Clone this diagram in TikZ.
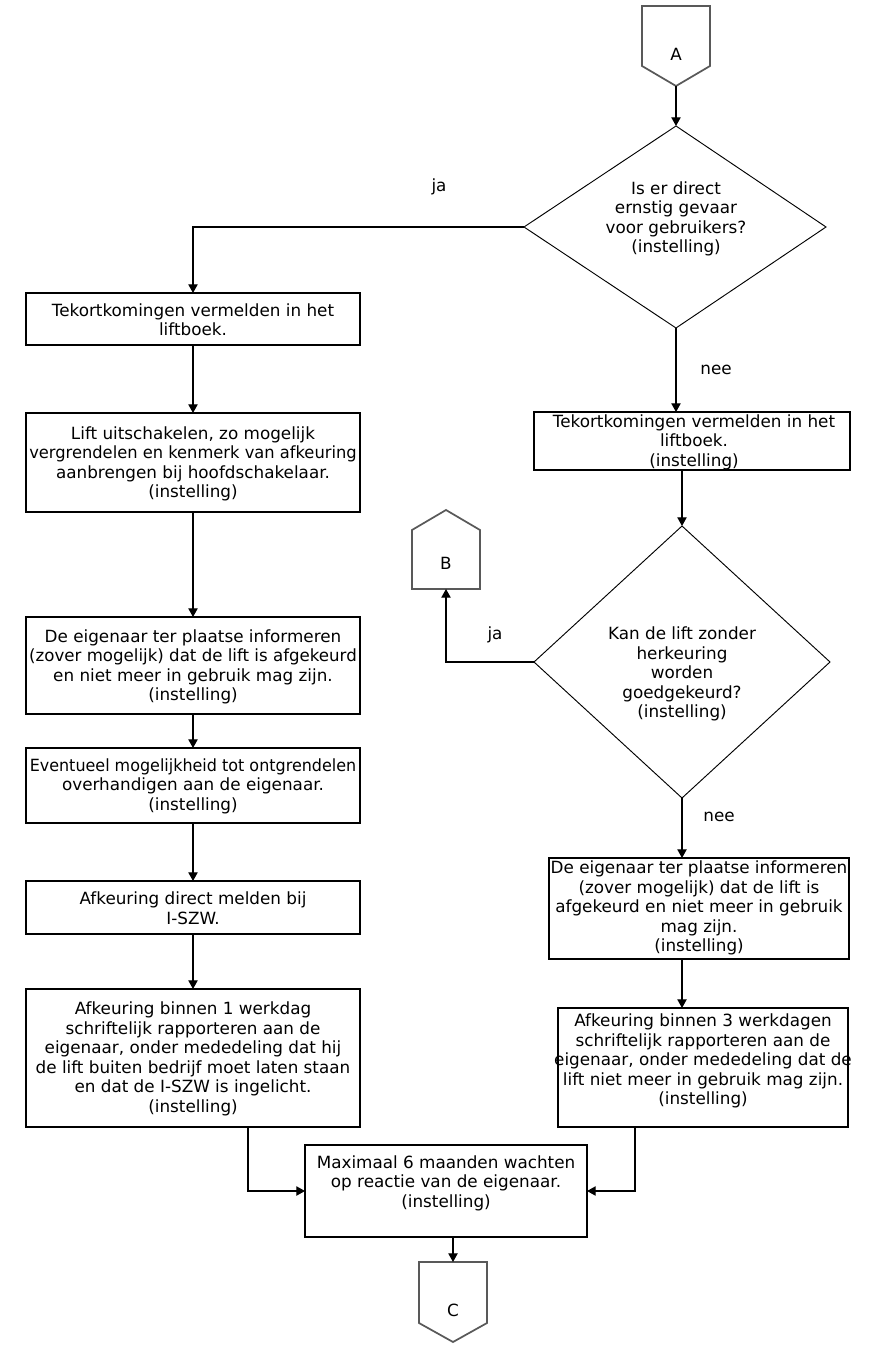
\documentclass[tikz,border=0pt]{standalone}
\usepackage{fontspec}
\usepackage{graphicx}
\setmainfont{DejaVu Sans}
\usetikzlibrary{arrows.meta}
\newcommand\mybox[5]{\node[box, minimum width={(#4-#2)*0.75pt}, minimum height={(#5-#3)*0.75pt}] (#1) at ({(#2+#4)/2},{(#3+#5)/2}) {};}
\begin{document}
\begin{tikzpicture}[x=0.75pt,y=-0.75pt,
  box/.style={draw=black, line width=1.1pt, inner sep=0pt, outer sep=0pt},
  txt/.style={align=center, inner sep=0pt, font=\fontsize{12.6}{14.6}\selectfont},
  lbl/.style={inner sep=0pt, font=\fontsize{12.6}{14.6}\selectfont},
  conn/.style={line width=0.9pt, draw=black, -{Triangle[length=6.5pt,width=7pt]}},
  dia/.style={draw=black, line width=0.7pt},
  pent/.style={draw=black!65, line width=1.3pt, line join=miter}]
\useasboundingbox (0,0) rectangle (886,1351);

% connectors A, B, C
\draw[pent] (642,6) -- (710,6) -- (710,66) -- (676,86) -- (642,66) -- cycle;
\node[lbl] (A) at (676,54) {A};
\coordinate (Apt) at (676,86);

\draw[pent] (412,589) -- (480,589) -- (480,530) -- (446,510) -- (412,530) -- cycle;
\node[lbl] (B) at (446,563) {B};
\coordinate (Bb) at (446,589);

\draw[pent] (419,1262) -- (487,1262) -- (487,1323) -- (453,1342) -- (419,1323) -- cycle;
\node[lbl] (C) at (453,1310) {C};
\coordinate (Ct) at (453,1262);

% diamond 1
\coordinate (D1t) at (676,126);
\coordinate (D1b) at (676,328);
\coordinate (D1l) at (524,227);
\coordinate (D1r) at (826,227);
\draw[dia] (D1t) -- (D1r) -- (D1b) -- (D1l) -- cycle;
\node[txt] (D1) at (676,219) {Is er direct\\ernstig gevaar\\voor gebruikers?\\(instelling)};

% diamond 2
\coordinate (D2t) at (682,526);
\coordinate (D2b) at (682,798);
\coordinate (D2l) at (534,662);
\coordinate (D2r) at (830,662);
\draw[dia] (D2t) -- (D2r) -- (D2b) -- (D2l) -- cycle;
\node[txt] (D2) at (682,674) {Kan de lift zonder\\herkeuring\\worden\\goedgekeurd?\\(instelling)};

% left column
\mybox{L1}{26}{293}{360}{345}
\node[txt] (L1t) at (193,320) {Tekortkomingen vermelden in het\\liftboek.};
\mybox{L2}{26}{413}{360}{512}
\node[txt] (L2t) at (193,464) {Lift uitschakelen, zo mogelijk\\\scalebox{0.97}[1]{vergrendelen en kenmerk van afkeuring}\\aanbrengen bij hoofdschakelaar.\\(instelling)};
\mybox{L3}{26}{617}{360}{714}
\node[txt] (L3t) at (193,667) {De eigenaar ter plaatse informeren\\\scalebox{0.99}[1]{(zover mogelijk) dat de lift is afgekeurd}\\en niet meer in gebruik mag zijn.\\(instelling)};
\mybox{L4}{26}{748}{360}{823}
\node[txt] (L4t) at (193,786) {\scalebox{0.95}[1]{Eventueel mogelijkheid tot ontgrendelen}\\overhandigen aan de eigenaar.\\(instelling)};
\mybox{L5}{26}{881}{360}{934}
\node[txt] (L5t) at (193,908) {Afkeuring direct melden bij\\I-SZW.};
\mybox{L6}{26}{989}{360}{1127}
\node[txt] (L6t) at (193,1059) {Afkeuring binnen 1 werkdag\\schriftelijk rapporteren aan de\\eigenaar, onder mededeling dat hij\\de lift buiten bedrijf moet laten staan\\en dat de I-SZW is ingelicht.\\(instelling)};

% bottom box
\mybox{M}{305}{1145}{587}{1237}
\node[txt] (Mt) at (446,1183) {Maximaal 6 maanden wachten\\op reactie van de eigenaar.\\(instelling)};

% right column
\mybox{R1}{534}{412}{850}{470}
\node[txt] (R1t) at (694,442) {Tekortkomingen vermelden in het\\liftboek.\\(instelling)};
\mybox{R2}{549}{858}{849}{959}
\node[txt] (R2t) at (699,908) {De eigenaar ter plaatse informeren\\(zover mogelijk) dat de lift is\\afgekeurd en niet meer in gebruik\\mag zijn.\\(instelling)};
\mybox{R3}{558}{1008}{848}{1127}
\node[txt] (R3t) at (703,1061) {Afkeuring binnen 3 werkdagen\\schriftelijk rapporteren aan de\\eigenaar, onder mededeling dat de\\lift niet meer in gebruik mag zijn.\\(instelling)};

% labels
\node[lbl] (ja1) at (439,187) {ja};
\node[lbl] (nee1) at (716,370) {nee};
\node[lbl] (ja2) at (495,635) {ja};
\node[lbl] (nee2) at (719,817) {nee};

% arrows
\draw[conn] (Apt) -- (D1t);
\draw[conn] (D1l) -| (L1);
\draw[conn] (L1) -- (L2);
\draw[conn] (L2) -- (L3);
\draw[conn] (L3) -- (L4);
\draw[conn] (L4) -- (L5);
\draw[conn] (L5) -- (L6);
\draw[conn] (D1b) -- (D1b |- R1.north);
\draw[conn] (R1.south -| D2t) -- (D2t);
\draw[conn] (D2l) -| (Bb);
\draw[conn] (D2b) -- (D2b |- R2.north);
\draw[conn] (R2.south -| D2b) -- (R3.north -| D2b);
\draw[conn] ([xshift=41.25pt]L6.south) |- (M);
\draw[conn] ([xshift=-51pt]R3.south) |- (M);
\draw[conn] (M.south -| Ct) -- (Ct);
\end{tikzpicture}
\end{document}
